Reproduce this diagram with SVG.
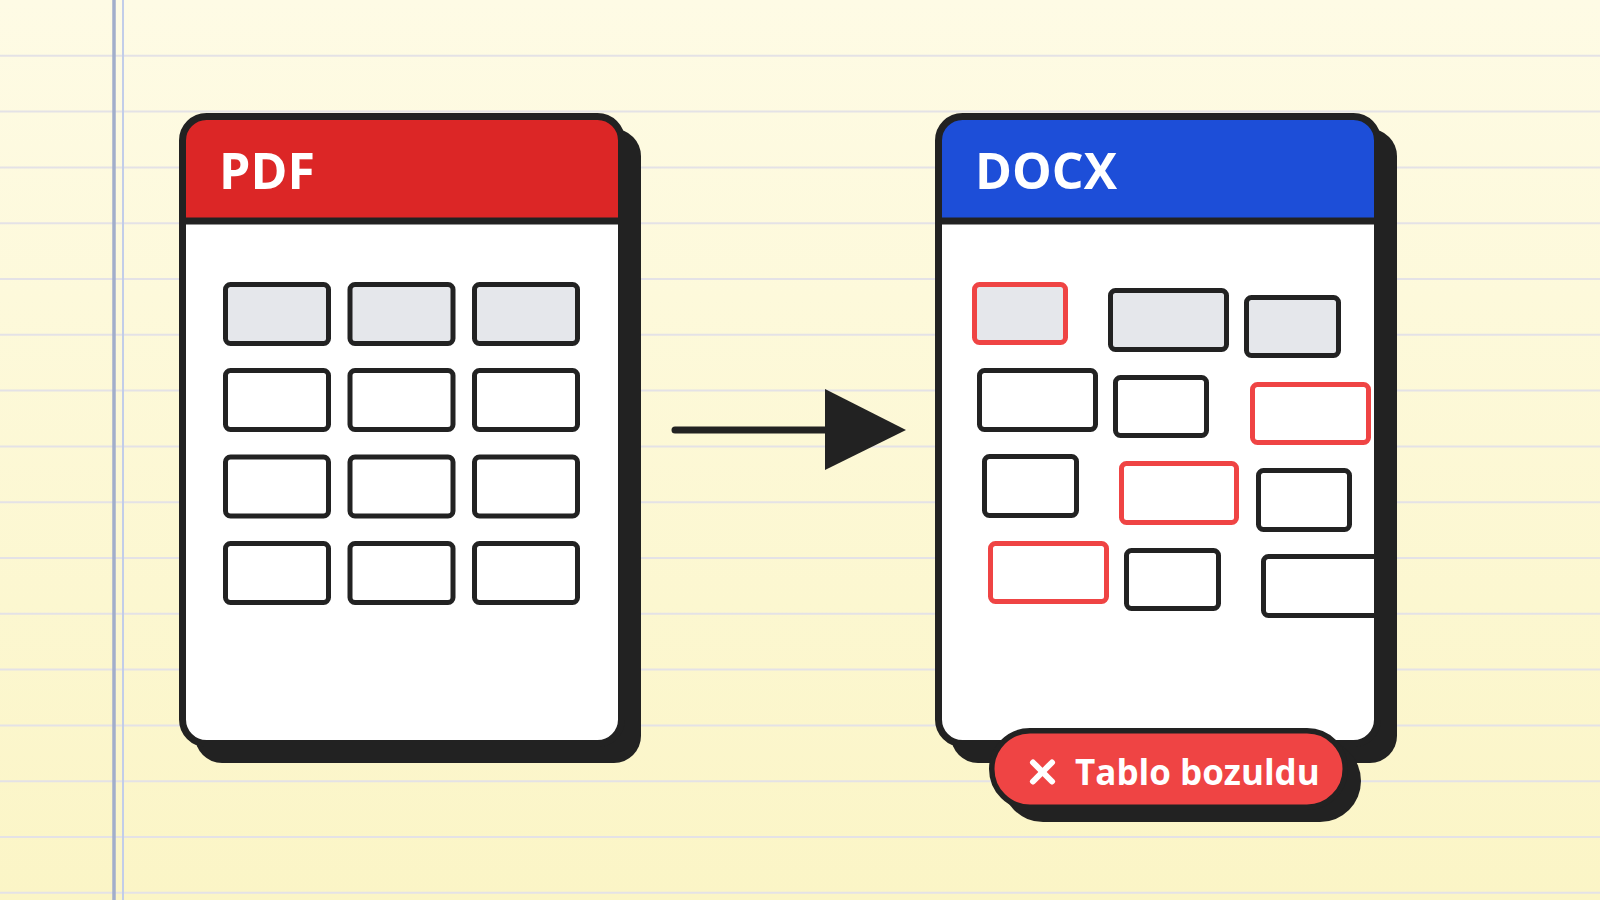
<svg xmlns="http://www.w3.org/2000/svg" width="1600" height="900" viewBox="0 0 1600 900">
  <defs>
    <linearGradient id="paper" x1="0" y1="0" x2="0" y2="1">
      <stop offset="0" stop-color="#FEFBE5"/>
      <stop offset="1" stop-color="#FBF5C6"/>
    </linearGradient>
    <clipPath id="docxBody">
      <rect x="942" y="225" width="432" height="515"/>
    </clipPath>
    <style>
      .rule { stroke: #E4E2E6; stroke-width: 2; }
      .shadow { fill: #222222; }
      .card { fill: none; stroke: #222222; stroke-width: 7; }
      .body { fill: #FFFFFF; }
      .divider { stroke: #222222; stroke-width: 7; }
      .title { font-family: "Open Sans", "Noto Sans", "Liberation Sans", sans-serif; font-weight: 700; font-size: 50px; fill: #FFFFFF; }
      .cell { fill: #FFFFFF; stroke: #222222; stroke-width: 5; }
      .head { fill: #E5E7EB; }
      .bad { stroke: #EF4444; }
      .badge-text { font-family: "Open Sans", "Noto Sans", "Liberation Sans", sans-serif; font-weight: 700; font-size: 35px; fill: #FFFFFF; }
    </style>
  </defs>

  <g id="background">
    <rect x="0" y="0" width="1600" height="900" fill="url(#paper)"/>
    <line class="rule" x1="0" y1="55.8" x2="1600" y2="55.8"/>
    <line class="rule" x1="0" y1="111.6" x2="1600" y2="111.6"/>
    <line class="rule" x1="0" y1="167.4" x2="1600" y2="167.4"/>
    <line class="rule" x1="0" y1="223.2" x2="1600" y2="223.2"/>
    <line class="rule" x1="0" y1="279" x2="1600" y2="279"/>
    <line class="rule" x1="0" y1="334.8" x2="1600" y2="334.8"/>
    <line class="rule" x1="0" y1="390.6" x2="1600" y2="390.6"/>
    <line class="rule" x1="0" y1="446.4" x2="1600" y2="446.4"/>
    <line class="rule" x1="0" y1="502.2" x2="1600" y2="502.2"/>
    <line class="rule" x1="0" y1="558" x2="1600" y2="558"/>
    <line class="rule" x1="0" y1="613.8" x2="1600" y2="613.8"/>
    <line class="rule" x1="0" y1="669.6" x2="1600" y2="669.6"/>
    <line class="rule" x1="0" y1="725.4" x2="1600" y2="725.4"/>
    <line class="rule" x1="0" y1="781.2" x2="1600" y2="781.2"/>
    <line class="rule" x1="0" y1="837" x2="1600" y2="837"/>
    <line class="rule" x1="0" y1="892.8" x2="1600" y2="892.8"/>
    <line x1="114" y1="0" x2="114" y2="900" stroke="#A2AECB" stroke-width="3.5"/>
    <line x1="123" y1="0" x2="123" y2="900" stroke="#C2CDE9" stroke-width="2"/>
  </g>

  <g id="pdf-card">
    <rect class="shadow" x="195" y="129" width="446" height="634" rx="27"/>
    <rect class="body" x="182.5" y="116.5" width="439" height="627" rx="24"/>
    <path d="M182.5,221 V140.5 A24,24 0 0 1 206.5,116.5 H597.5 A24,24 0 0 1 621.5,140.5 V221 Z" fill="#DC2626"/>
    <line class="divider" x1="182.5" y1="221" x2="621.5" y2="221"/>
    <rect class="card" x="182.5" y="116.5" width="439" height="627" rx="24"/>
    <text class="title" x="219" y="189">PDF</text>
    <g id="pdf-table">
      <rect class="cell head" x="225.5" y="284.5" width="103" height="59" rx="5"/>
      <rect class="cell head" x="350" y="284.5" width="103" height="59" rx="5"/>
      <rect class="cell head" x="474.5" y="284.5" width="103" height="59" rx="5"/>
      <rect class="cell" x="225.5" y="370.5" width="103" height="59" rx="5"/>
      <rect class="cell" x="350" y="370.5" width="103" height="59" rx="5"/>
      <rect class="cell" x="474.5" y="370.5" width="103" height="59" rx="5"/>
      <rect class="cell" x="225.5" y="457" width="103" height="59" rx="5"/>
      <rect class="cell" x="350" y="457" width="103" height="59" rx="5"/>
      <rect class="cell" x="474.5" y="457" width="103" height="59" rx="5"/>
      <rect class="cell" x="225.5" y="543.5" width="103" height="59" rx="5"/>
      <rect class="cell" x="350" y="543.5" width="103" height="59" rx="5"/>
      <rect class="cell" x="474.5" y="543.5" width="103" height="59" rx="5"/>
    </g>
  </g>

  <g id="connectors">
    <line x1="675" y1="430" x2="828" y2="430" stroke="#222222" stroke-width="7" stroke-linecap="round"/>
    <polygon points="825,389 906,430 825,470" fill="#222222"/>
  </g>

  <g id="docx-card">
    <rect class="shadow" x="951" y="129" width="446" height="634" rx="27"/>
    <rect class="body" x="938.5" y="116.5" width="439" height="627" rx="24"/>
    <path d="M938.5,221 V140.5 A24,24 0 0 1 962.5,116.5 H1353.5 A24,24 0 0 1 1377.5,140.5 V221 Z" fill="#1D4ED8"/>
    <line class="divider" x1="938.5" y1="221" x2="1377.5" y2="221"/>
    <g id="docx-table" clip-path="url(#docxBody)">
      <rect class="cell head bad" x="974.5" y="284.5" width="91" height="58" rx="5"/>
      <rect class="cell head" x="1110.5" y="290.5" width="116" height="59" rx="5"/>
      <rect class="cell head" x="1246.5" y="297.5" width="92" height="58" rx="5"/>
      <rect class="cell" x="979.5" y="370.5" width="116" height="59" rx="5"/>
      <rect class="cell" x="1115.5" y="377.5" width="91" height="58" rx="5"/>
      <rect class="cell bad" x="1252.5" y="384.5" width="116" height="58" rx="5"/>
      <rect class="cell" x="984.5" y="456.5" width="92" height="59" rx="5"/>
      <rect class="cell bad" x="1121.5" y="463.5" width="115" height="59" rx="5"/>
      <rect class="cell" x="1258.5" y="470.5" width="91" height="59" rx="5"/>
      <rect class="cell bad" x="990.5" y="543.5" width="116" height="58" rx="5"/>
      <rect class="cell" x="1126.5" y="550.5" width="92" height="58" rx="5"/>
      <rect class="cell" x="1263.5" y="556.5" width="130" height="59" rx="5"/>
    </g>
    <rect class="card" x="938.5" y="116.5" width="439" height="627" rx="24"/>
    <text class="title" x="975" y="189">DOCX</text>
  </g>

  <g id="badge">
    <rect class="shadow" x="1002" y="740" width="359" height="82" rx="41"/>
    <rect x="991.75" y="730.75" width="353.5" height="76.5" rx="38.25" fill="#EF4444" stroke="#222222" stroke-width="5.5"/>
    <g stroke="#FFFFFF" stroke-width="6" stroke-linecap="round">
      <line x1="1033" y1="762.5" x2="1052" y2="781.5"/>
      <line x1="1052" y1="762.5" x2="1033" y2="781.5"/>
    </g>
    <text class="badge-text" x="1075" y="785">Tablo bozuldu</text>
  </g>
</svg>
